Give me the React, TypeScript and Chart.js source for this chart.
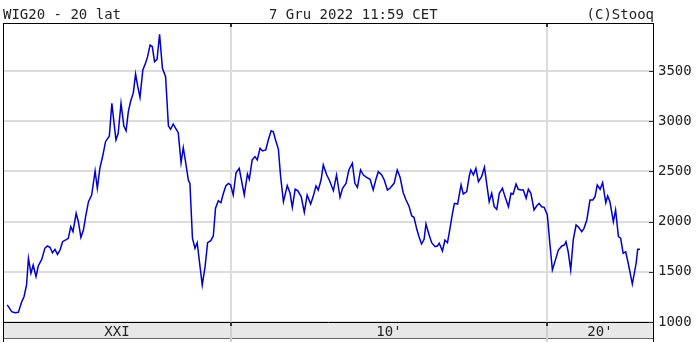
import React, { useEffect, useRef } from "react";
import { Chart, registerables } from "chart.js";

Chart.register(...registerables);

// Time (decimal years) and WIG20 closing level
const years: number[] = [
  2002.92, 2003.06, 2003.16, 2003.27, 2003.38, 2003.45, 2003.53, 2003.59, 2003.67, 2003.74,
  2003.83, 2003.90, 2004.01, 2004.11, 2004.19, 2004.27, 2004.35, 2004.43, 2004.51, 2004.59,
  2004.67, 2004.77, 2004.85, 2004.93, 2005.00, 2005.10, 2005.17, 2005.25, 2005.33, 2005.40,
  2005.49, 2005.59, 2005.70, 2005.77, 2005.85, 2005.94, 2006.03, 2006.15, 2006.23, 2006.30,
  2006.36, 2006.43, 2006.52, 2006.61, 2006.68, 2006.75, 2006.82, 2006.91, 2006.98, 2007.05,
  2007.12, 2007.21, 2007.30, 2007.36, 2007.44, 2007.51, 2007.58, 2007.66, 2007.74, 2007.83,
  2007.93, 2008.02, 2008.09, 2008.17, 2008.25, 2008.33, 2008.42, 2008.49, 2008.57, 2008.65,
  2008.70, 2008.78, 2008.86, 2008.93, 2009.02, 2009.09, 2009.18, 2009.26, 2009.36, 2009.44,
  2009.51, 2009.60, 2009.68, 2009.76, 2009.84, 2009.92, 2009.99, 2010.07, 2010.16, 2010.26,
  2010.42, 2010.52, 2010.58, 2010.67, 2010.76, 2010.83, 2010.92, 2011.00, 2011.10, 2011.18,
  2011.27, 2011.34, 2011.41, 2011.50, 2011.57, 2011.66, 2011.78, 2011.87, 2011.94, 2012.03,
  2012.11, 2012.22, 2012.32, 2012.41, 2012.52, 2012.60, 2012.69, 2012.76, 2012.85, 2012.92,
  2013.03, 2013.11, 2013.24, 2013.34, 2013.45, 2013.53, 2013.64, 2013.73, 2013.84, 2013.92,
  2014.00, 2014.10, 2014.19, 2014.29, 2014.40, 2014.50, 2014.58, 2014.66, 2014.77, 2014.85,
  2014.95, 2015.03, 2015.16, 2015.26, 2015.35, 2015.45, 2015.54, 2015.63, 2015.72, 2015.79,
  2015.88, 2015.95, 2016.03, 2016.11, 2016.17, 2016.27, 2016.35, 2016.46, 2016.53, 2016.59,
  2016.69, 2016.77, 2016.85, 2016.93, 2017.00, 2017.07, 2017.17, 2017.28, 2017.35, 2017.46,
  2017.54, 2017.59, 2017.67, 2017.75, 2017.83, 2017.93, 2018.02, 2018.09, 2018.17, 2018.25,
  2018.33, 2018.41, 2018.49, 2018.59, 2018.67, 2018.78, 2018.86, 2018.93, 2019.02, 2019.09,
  2019.18, 2019.25, 2019.34, 2019.41, 2019.49, 2019.59, 2019.67, 2019.75, 2019.83, 2019.91,
  2020.01, 2020.09, 2020.17, 2020.25, 2020.36, 2020.47, 2020.55, 2020.60, 2020.67, 2020.75,
  2020.83, 2020.92, 2021.00, 2021.10, 2021.17, 2021.26, 2021.36, 2021.45, 2021.52, 2021.59,
  2021.68, 2021.76, 2021.86, 2021.92, 2021.99, 2022.10, 2022.17, 2022.26, 2022.33, 2022.41,
  2022.49, 2022.57, 2022.70, 2022.82, 2022.87, 2022.94,
];

const values: number[] = [
  1170, 1103, 1093, 1096, 1203, 1252, 1369, 1634, 1485, 1568,
  1452, 1558, 1624, 1734, 1757, 1744, 1690, 1724, 1674, 1717,
  1800, 1817, 1833, 1950, 1900, 2083, 1999, 1843, 1916, 2049,
  2198, 2265, 2504, 2332, 2531, 2653, 2796, 2853, 3178, 2979,
  2813, 2879, 3178, 2952, 2905, 3093, 3193, 3284, 3470, 3344,
  3238, 3510, 3583, 3643, 3759, 3742, 3593, 3616, 3866, 3527,
  3444, 2952, 2919, 2972, 2929, 2886, 2587, 2736, 2580, 2414,
  2381, 1834, 1734, 1790, 1551, 1369, 1551, 1790, 1810, 1857,
  2133, 2208, 2188, 2282, 2358, 2381, 2365, 2265, 2487, 2531,
  2265, 2474, 2421, 2614, 2647, 2614, 2730, 2703, 2713, 2813,
  2905, 2895, 2813, 2720, 2448, 2198, 2358, 2282, 2142, 2322,
  2308, 2249, 2093, 2265, 2175, 2249, 2355, 2315, 2414, 2564,
  2464, 2414, 2308, 2464, 2242, 2332, 2381, 2514, 2581, 2381,
  2341, 2514, 2464, 2441, 2421, 2315, 2414, 2497, 2464, 2414,
  2315, 2332, 2381, 2514, 2441, 2288, 2215, 2155, 2056, 2043,
  1923, 1850, 1777, 1823, 1976, 1867, 1790, 1750, 1757, 1784,
  1707, 1817, 1790, 1933, 2066, 2182, 2175, 2365, 2275, 2298,
  2454, 2514, 2464, 2531, 2398, 2448, 2541, 2381, 2198, 2282,
  2148, 2122, 2282, 2332, 2249, 2148, 2282, 2275, 2374, 2322,
  2315, 2315, 2232, 2322, 2282, 2116, 2155, 2182, 2148, 2142,
  2066, 1784, 1518, 1601, 1717, 1757, 1767, 1800, 1700, 1518,
  1817, 1966, 1943, 1900, 1933, 2016, 2215, 2215, 2249, 2365,
  2322, 2388, 2188, 2255, 2198, 1999, 2116, 1850, 1834, 1684,
  1700, 1585, 1378, 1585, 1724, 1724,
];

const yTicks: number[] = [1000, 1500, 2000, 2500, 3000, 3500];
const decadeLines: number[] = [2010, 2020];
const periodLabels: string[] = ["XXI", "10'", "20'"];
const periodStarts: number[] = [2002.785, 2010, 2020];
const periodEnds: number[] = [2010, 2020, 2023.354];

const titleLeft = "WIG20 - 20 lat";
const titleCenter = "7 Gru 2022 11:59 CET";
const titleRight = "(C)Stooq";

const X_MIN = 2002.785;
const X_MAX = 2023.354;
const Y_MIN = 1000;
const Y_MAX = 3968;

const FONT = '"DejaVu Sans Mono", monospace';

const decorPlugin = {
  id: "decor",
  afterDraw(chart: any) {
    const { ctx, chartArea } = chart;
    const xs = chart.scales.x;
    const ys = chart.scales.y;
    const L = chartArea.left;
    const R = chartArea.right;
    const T = chartArea.top;
    const B = chartArea.bottom;
    const H = chart.height;
    ctx.save();

    // bottom band
    const bandTop = B;
    const bandBottom = B + 16;
    ctx.fillStyle = "#e8e8e8";
    ctx.fillRect(L, bandTop, R - L, bandBottom - bandTop);
    ctx.strokeStyle = "#666";
    ctx.lineWidth = 1;
    ctx.beginPath();
    ctx.moveTo(L, bandBottom + 0.5);
    ctx.lineTo(R, bandBottom + 0.5);
    ctx.stroke();

    // decade lines through band
    ctx.strokeStyle = "#cfcfcf";
    ctx.lineWidth = 2;
    decadeLines.forEach((d) => {
      const px = Math.round(xs.getPixelForValue(d));
      ctx.beginPath();
      ctx.moveTo(px, bandTop);
      ctx.lineTo(px, H);
      ctx.stroke();
    });

    // period labels
    ctx.fillStyle = "#222";
    ctx.font = "14px " + FONT;
    ctx.textAlign = "center";
    ctx.textBaseline = "alphabetic";
    periodLabels.forEach((lab, i) => {
      const a = xs.getPixelForValue(Math.max(periodStarts[i], X_MIN));
      const b = xs.getPixelForValue(Math.min(periodEnds[i], X_MAX));
      ctx.fillText(lab, (a + b) / 2, bandBottom - 2);
    });

    // frame
    ctx.strokeStyle = "#000";
    ctx.lineWidth = 1;
    ctx.beginPath();
    ctx.moveTo(L + 0.5, T - 0.5);
    ctx.lineTo(R + 0.5, T - 0.5);
    ctx.moveTo(L + 0.5, T - 1);
    ctx.lineTo(L + 0.5, H);
    ctx.moveTo(R + 0.5, T - 1);
    ctx.lineTo(R + 0.5, H);
    ctx.moveTo(L, B + 0.5);
    ctx.lineTo(R + 1, B + 0.5);
    ctx.stroke();

    // small dark ticks
    ctx.strokeStyle = "#333";
    ctx.lineWidth = 2;
    decadeLines.forEach((d) => {
      const px = Math.round(xs.getPixelForValue(d));
      ctx.beginPath();
      ctx.moveTo(px, T);
      ctx.lineTo(px, T + 3);
      ctx.moveTo(px, B);
      ctx.lineTo(px, B + 4);
      ctx.stroke();
    });
    ctx.lineWidth = 1;
    yTicks.forEach((v) => {
      const py = Math.round(ys.getPixelForValue(v)) + 0.5;
      ctx.beginPath();
      ctx.moveTo(R - 4, py);
      ctx.lineTo(R, py);
      ctx.stroke();
    });

    // titles
    ctx.fillStyle = "#222";
    ctx.font = "14px " + FONT;
    ctx.textBaseline = "alphabetic";
    ctx.textAlign = "left";
    ctx.fillText(titleLeft, L, 19);
    ctx.fillText(titleCenter, 269, 19);
    ctx.textAlign = "right";
    ctx.fillText(titleRight, R + 1, 19);
    ctx.restore();
  },
};

export default function App() {
  const ref = useRef<HTMLCanvasElement | null>(null);
  useEffect(() => {
    if (!ref.current) return;
    const chart = new Chart(ref.current, {
      type: "line",
      data: {
        datasets: [
          {
            data: years.map((x, i) => ({ x, y: values[i] })),
            borderColor: "#0000cc",
            borderWidth: 1.5,
            pointRadius: 0,
            tension: 0,
            fill: false,
          },
        ],
      },
      options: {
        responsive: false,
        animation: false,
        devicePixelRatio: 1,
        layout: { padding: { left: 3, top: 24, right: 0, bottom: 20 } },
        plugins: { legend: { display: false }, tooltip: { enabled: false }, title: { display: false } },
        scales: {
          x: {
            type: "linear",
            min: X_MIN,
            max: X_MAX,
            afterBuildTicks: (s: any) => {
              s.ticks = decadeLines.map((v) => ({ value: v }));
            },
            afterFit: (s: any) => {
              s.height = 0;
            },
            ticks: { display: false },
            border: { display: false },
            grid: { color: "#dcdcdc", lineWidth: 2, drawTicks: false },
          },
          y: {
            position: "right",
            min: Y_MIN,
            max: Y_MAX,
            afterBuildTicks: (s: any) => {
              s.ticks = yTicks.map((v) => ({ value: v }));
            },
            afterFit: (s: any) => {
              s.width = 47;
            },
            ticks: {
              padding: 5,
              color: "#222",
              font: { family: FONT, size: 14 },
              callback: (v: any) => String(v),
            },
            border: { display: false },
            grid: { color: "#dcdcdc", lineWidth: 2, drawTicks: false },
          },
        },
      },
      plugins: [decorPlugin],
    } as any);
    return () => chart.destroy();
  }, []);
  return (
    <div style={{ position: "fixed", left: 0, top: 0, width: 700, height: 342, background: "#fff" }}>
      <canvas ref={ref} width={700} height={342} style={{ display: "block" }} />
    </div>
  );
}
